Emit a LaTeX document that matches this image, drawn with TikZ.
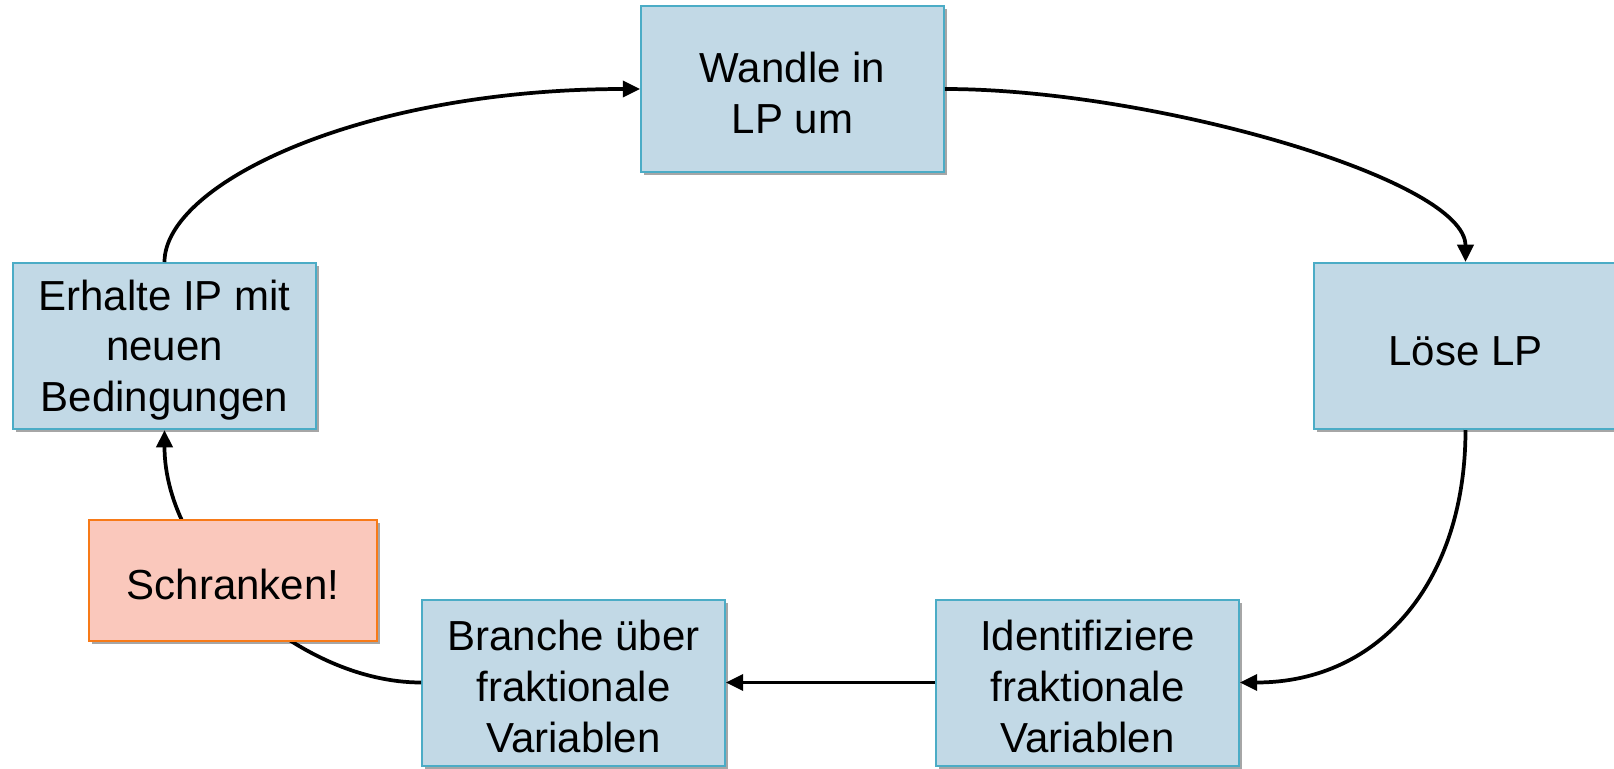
\documentclass[tikz,border=0pt]{standalone}
\usepackage{fontspec}
\setmainfont{Liberation Sans}
\usetikzlibrary{shadows,arrows.meta}
\definecolor{boxfill}{RGB}{194,217,230}
\definecolor{boxline}{RGB}{75,172,198}
\definecolor{warnfill}{RGB}{250,200,188}
\definecolor{warnline}{RGB}{247,122,24}
% tall invisible strut on the first line pushes the text block a little lower
\newcommand{\firststrut}{\rule{0pt}{29pt}}
\begin{document}
\begin{tikzpicture}[x=0.75pt,y=-0.75pt,
  stepbox/.style={draw=boxline, line width=1.5pt, fill=boxfill,
    minimum width=227pt, minimum height=124.5pt, inner sep=0pt,
    align=center, font=\fontsize{31.5}{38}\selectfont,
    drop shadow={shadow xshift=2pt, shadow yshift=-2.5pt, opacity=0.35, fill=black}},
  warnbox/.style={stepbox, draw=warnline, fill=warnfill,
    minimum width=216pt, minimum height=90.75pt},
  flow/.style={line width=2.8pt, -{Triangle[length=13pt,width=12pt]}}]
  \useasboundingbox (0,0) rectangle (1614,768);

  % process steps
  \node[stepbox] (wandle)  at (792.5,89)   {\firststrut Wandle in\\LP um};
  \node[stepbox] (loese)   at (1465.5,346) {\firststrut Löse LP};
  \node[stepbox] (ident)   at (1087.5,682.5) {\firststrut Identifiziere\\fraktionale\\Variablen};
  \node[stepbox] (branche) at (573.5,682.5)  {\firststrut Branche über\\fraktionale\\Variablen};
  \node[stepbox] (erhalte) at (164.5,346)  {\firststrut Erhalte IP mit\\neuen\\Bedingungen};

  % cycle connectors
  \draw[flow] (erhalte.north) .. controls +(0,-78) and +(-280,0) .. (wandle.west);
  \draw[flow] (wandle.east) .. controls +(206,0) and +(0,-83) .. (loese.north);
  \draw[flow] (loese.south) .. controls +(0,150) and +(141,0) .. (ident.east);
  \draw[flow] (ident.west) -- (branche.east);
  \draw[flow] (branche.west) .. controls +(-122,0) and +(0,131) .. (erhalte.south);

  % highlighted remark placed over the return path
  \node[warnbox] (schranken) at (233,580.5) {\firststrut Schranken!};
\end{tikzpicture}
\end{document}
